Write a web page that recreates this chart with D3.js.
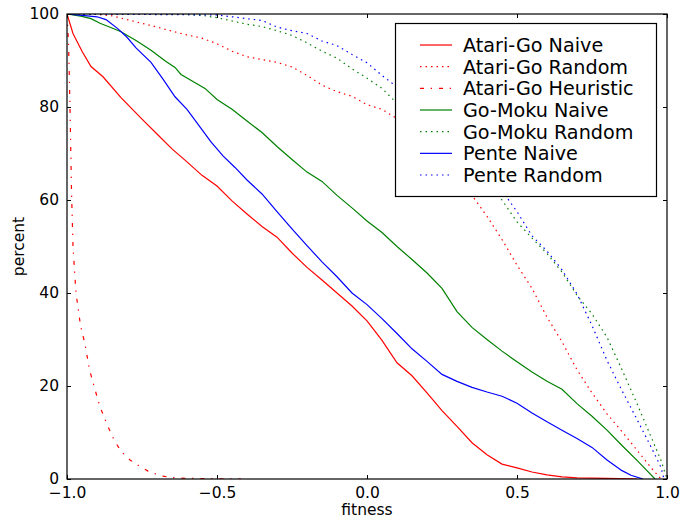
<!DOCTYPE html>
<html>
<head>
<meta charset="utf-8">
<script src="https://cdn.jsdelivr.net/npm/d3@7"></script>
<style>
  body { margin: 0; background: #fff; }
  svg { display: block; font-family: "DejaVu Sans", sans-serif; }
</style>
</head>
<body>
<svg id="chart" width="683" height="522"></svg>
<script>
// values: [fitness, percent]
const atariNaive = [[-1,100],[-0.98,95.8],[-0.95,92],[-0.92,88.7],[-0.88,86.5],[-0.82,82],[-0.75,77.4],[-0.7,74.2],[-0.65,71],[-0.6,68.2],[-0.55,65.3],[-0.5,63],[-0.45,59.8],[-0.4,57],[-0.35,54.3],[-0.3,52],[-0.25,48.6],[-0.2,45.5],[-0.15,42.8],[-0.1,40],[-0.05,37.2],[0,34],[0.05,29.8],[0.1,25],[0.15,22.2],[0.2,18.5],[0.25,14.7],[0.3,11.3],[0.35,7.8],[0.4,5.2],[0.45,3.2],[0.5,2.4],[0.55,1.5],[0.6,0.9],[0.65,0.45],[0.7,0.25],[0.8,0.12],[0.88,0.05],[0.9,0]];
const atariRandom = [[-1,100],[-0.9,99.9],[-0.85,99.6],[-0.8,98.8],[-0.75,98],[-0.7,97.2],[-0.65,96.3],[-0.6,95.5],[-0.55,94.8],[-0.5,93.6],[-0.45,92],[-0.4,90.8],[-0.35,90.2],[-0.3,89.6],[-0.25,88.6],[-0.2,86.8],[-0.15,84.7],[-0.1,83.3],[-0.05,82.3],[0,80.5],[0.05,79.5],[0.1,77.5],[0.15,75.5],[0.2,72.5],[0.25,69],[0.3,65],[0.35,61],[0.4,56.5],[0.45,51.5],[0.5,46],[0.55,41],[0.6,34.8],[0.65,29.5],[0.7,23.5],[0.75,18.5],[0.8,14],[0.85,10.2],[0.9,6.2],[0.95,2.2],[0.98,0]];
const atariHeuristic = [[-1,100],[-0.995,94],[-0.99,80],[-0.985,62],[-0.98,50],[-0.97,40],[-0.955,33],[-0.94,29],[-0.925,23.5],[-0.91,20],[-0.89,15.5],[-0.87,12.3],[-0.85,9.3],[-0.83,7],[-0.81,5.3],[-0.79,4.1],[-0.76,2.8],[-0.73,1.7],[-0.7,1],[-0.68,0.6],[-0.65,0.3],[-0.6,0.15],[-0.5,0.05],[-0.42,0]];
const gomokuNaive = [[-1,100],[-0.95,99.5],[-0.92,99],[-0.89,98],[-0.85,97],[-0.82,96.2],[-0.77,94.3],[-0.72,92.2],[-0.67,89.8],[-0.64,88.5],[-0.62,87],[-0.58,85.5],[-0.54,84],[-0.5,81.6],[-0.45,79.5],[-0.4,77],[-0.35,74.5],[-0.3,71.5],[-0.25,68.7],[-0.2,66],[-0.15,64],[-0.1,61],[-0.05,58.3],[0,55.5],[0.05,53],[0.1,50],[0.15,47.2],[0.2,44.3],[0.25,41],[0.3,36],[0.35,32.6],[0.4,30],[0.45,27.5],[0.5,25.2],[0.55,23],[0.6,21],[0.65,19.3],[0.7,16.2],[0.75,13.5],[0.8,10.5],[0.85,7.2],[0.9,4],[0.93,2],[0.96,0]];
const gomokuRandom = [[-1,100],[-0.6,99.9],[-0.55,99.7],[-0.5,99.2],[-0.45,98.5],[-0.4,97.8],[-0.35,97.3],[-0.3,96.4],[-0.25,95.4],[-0.2,93.8],[-0.15,92],[-0.1,90.5],[-0.05,88.2],[0,86.2],[0.05,84],[0.1,80.8],[0.15,78],[0.2,75.5],[0.25,73],[0.3,70],[0.35,67],[0.4,63.5],[0.45,60],[0.5,55.3],[0.55,51.8],[0.6,48.5],[0.65,44.5],[0.7,39.5],[0.75,35.5],[0.8,30.5],[0.85,23.5],[0.9,16.2],[0.95,8.6],[0.98,4],[1.0,0]];
const penteNaive = [[-1,100],[-0.95,99.7],[-0.9,99.4],[-0.87,98.8],[-0.83,96.8],[-0.8,95],[-0.77,92.7],[-0.72,89.6],[-0.68,86],[-0.64,82.2],[-0.6,79.5],[-0.56,76],[-0.52,72.5],[-0.48,69.5],[-0.44,67],[-0.4,64.3],[-0.35,61.3],[-0.3,57.5],[-0.25,53.8],[-0.2,50.2],[-0.15,46.7],[-0.1,43.5],[-0.05,40],[0,37.5],[0.05,34.5],[0.1,31.3],[0.15,28],[0.2,25.3],[0.25,22.5],[0.3,21],[0.35,19.7],[0.4,18.7],[0.45,17.8],[0.5,16.3],[0.55,14.2],[0.6,12.3],[0.65,10.5],[0.7,8.7],[0.75,6.8],[0.8,4.1],[0.85,1.8],[0.88,0.8],[0.92,0]];
const penteRandom = [[-1,100],[-0.5,99.8],[-0.45,99.4],[-0.4,99],[-0.35,98.6],[-0.3,97.2],[-0.25,96.4],[-0.2,95.8],[-0.15,94.2],[-0.1,93.2],[-0.05,91.3],[0,89.5],[0.05,86.8],[0.1,84.3],[0.15,81.5],[0.2,78.5],[0.25,75.5],[0.3,72],[0.35,68.5],[0.4,65],[0.45,62],[0.5,57.5],[0.55,52.3],[0.6,49],[0.65,45],[0.7,39.8],[0.75,33],[0.8,25.5],[0.85,19],[0.9,12.8],[0.95,6.5],[0.98,2.5],[0.99,0]];

const seriesNames = ["Atari-Go Naive", "Atari-Go Random", "Atari-Go Heuristic", "Go-Moku Naive", "Go-Moku Random", "Pente Naive", "Pente Random"];
const seriesColors = ["#ff0000", "#ff0000", "#ff0000", "#008000", "#008000", "#0000ff", "#0000ff"];
const seriesDashes = [null, "1.5,4", "4,6.7,1.3,7", null, "1.5,4", null, "1.5,4"];
const seriesData = [atariNaive, atariRandom, atariHeuristic, gomokuNaive, gomokuRandom, penteNaive, penteRandom];

const xTicks = [-1.0, -0.5, 0.0, 0.5, 1.0];
const yTicks = [0, 20, 40, 60, 80, 100];

const margin = {left: 67, right: 16, top: 14, bottom: 43};
const width = 683, height = 522;
const svg = d3.select("#chart");

const x = d3.scaleLinear().domain([-1, 1]).range([margin.left, width - margin.right]);
const y = d3.scaleLinear().domain([0, 100]).range([height - margin.bottom, margin.top]);

const line = d3.line().x(d => x(d[0])).y(d => y(d[1]));

svg.append("defs").append("clipPath").attr("id", "clip")
  .append("rect")
  .attr("x", x(-1)).attr("y", y(100))
  .attr("width", x(1) - x(-1)).attr("height", y(0) - y(100));

const plot = svg.append("g").attr("clip-path", "url(#clip)");

seriesData.forEach((data, i) => {
  plot.append("path")
    .datum(data)
    .attr("d", line)
    .attr("fill", "none")
    .attr("stroke", seriesColors[i])
    .attr("stroke-width", 1.2)
    .attr("stroke-dasharray", seriesDashes[i]);
});

// axes: ticks inward on all four sides
const fmtX = d3.format(".1f");
const tickLen = 4;

const xBottom = svg.append("g").attr("transform", `translate(0,${y(0)})`)
  .call(d3.axisBottom(x).tickValues(xTicks).tickFormat(fmtX).tickSizeInner(-tickLen).tickSizeOuter(0).tickPadding(8));
const xTop = svg.append("g").attr("transform", `translate(0,${y(100)})`)
  .call(d3.axisTop(x).tickValues(xTicks).tickFormat("").tickSizeInner(-tickLen).tickSizeOuter(0));
const yLeft = svg.append("g").attr("transform", `translate(${x(-1)},0)`)
  .call(d3.axisLeft(y).tickValues(yTicks).tickSizeInner(-tickLen).tickSizeOuter(0).tickPadding(8));
const yRight = svg.append("g").attr("transform", `translate(${x(1)},0)`)
  .call(d3.axisRight(y).tickValues(yTicks).tickFormat("").tickSizeInner(-tickLen).tickSizeOuter(0));

[xBottom, xTop, yLeft, yRight].forEach(g => {
  g.select(".domain").remove();
  g.selectAll(".tick line").attr("stroke", "#000").attr("stroke-width", 1);
  g.selectAll("text").attr("font-size", 15.5).attr("fill", "#000")
    .attr("font-family", "DejaVu Sans, sans-serif");
});
xBottom.selectAll("text").attr("dy", "0.71em");

svg.append("rect")
  .attr("x", x(-1)).attr("y", y(100))
  .attr("width", x(1) - x(-1)).attr("height", y(0) - y(100))
  .attr("fill", "none").attr("stroke", "#000").attr("stroke-width", 1.2);

svg.append("text")
  .attr("x", (x(-1) + x(1)) / 2).attr("y", 515)
  .attr("text-anchor", "middle").attr("font-size", 15.5)
  .text("fitness");

svg.append("text")
  .attr("transform", `translate(24,${(y(0) + y(100)) / 2}) rotate(-90)`)
  .attr("text-anchor", "middle").attr("font-size", 15.5)
  .text("percent");

// legend
const legend = svg.append("g");
legend.append("rect")
  .attr("x", 395.5).attr("y", 23.5).attr("width", 261).attr("height", 173)
  .attr("fill", "#fff").attr("stroke", "#000").attr("stroke-width", 1.2);

const rowH = 21.67;
seriesNames.forEach((name, i) => {
  const cy = 45 + i * rowH;
  legend.append("line")
    .attr("x1", 420).attr("x2", 452).attr("y1", cy).attr("y2", cy)
    .attr("stroke", seriesColors[i]).attr("stroke-width", 1.2)
    .attr("stroke-dasharray", seriesDashes[i]);
  legend.append("text")
    .attr("x", 463).attr("y", cy + 7)
    .attr("font-size", 19.2)
    .text(name);
});
</script>
</body>
</html>
